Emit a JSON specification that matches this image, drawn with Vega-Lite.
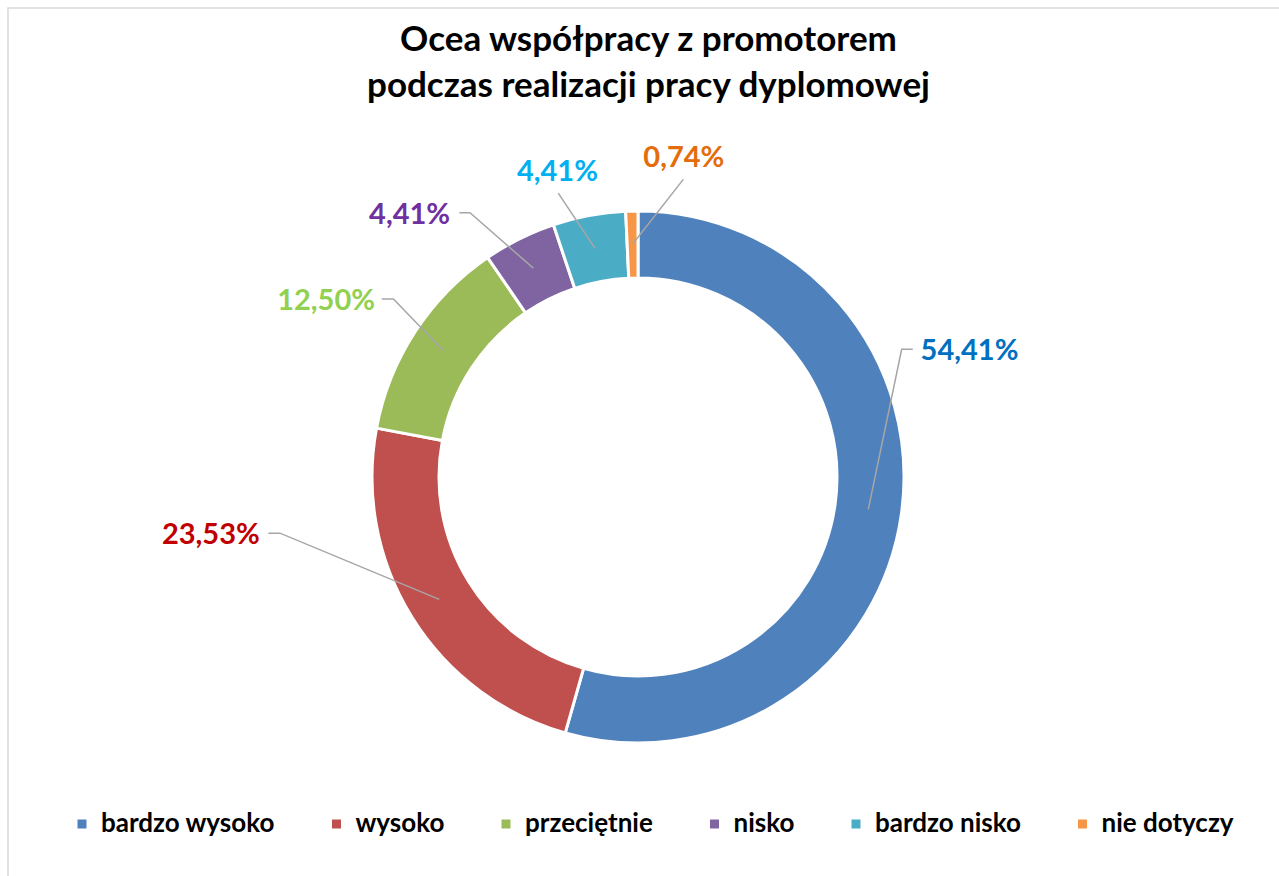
{
  "$schema": "https://vega.github.io/schema/vega-lite/v6.json",
  "width": 1281,
  "height": 878,
  "autosize": "none",
  "padding": {"left": 8, "top": 8, "right": -10, "bottom": -10},
  "background": "white",
  "config": {
    "view": {"stroke": "#D9D9D9", "strokeWidth": 1.5},
    "font": "Lato",
    "locale": {"number": {"decimal": ",", "thousands": " ", "grouping": [3], "currency": ["", " zł"]}}
  },
  "title": {
    "text": ["Ocea współpracy z promotorem", "podczas realizacji pracy dyplomowej"],
    "font": "Lato",
    "fontSize": 35,
    "fontWeight": "bold",
    "color": "#000000",
    "lineHeight": 46,
    "anchor": "middle",
    "frame": "group",
    "offset": -96
  },
  "datasets": {
    "dane": [
      {"kategoria": "bardzo wysoko", "udzial": 0.5441, "nr": 1},
      {"kategoria": "wysoko", "udzial": 0.2353, "nr": 2},
      {"kategoria": "przeciętnie", "udzial": 0.125, "nr": 3},
      {"kategoria": "nisko", "udzial": 0.0441, "nr": 4},
      {"kategoria": "bardzo nisko", "udzial": 0.0441, "nr": 5},
      {"kategoria": "nie dotyczy", "udzial": 0.0074, "nr": 6}
    ],
    "etykiety": [
      {"kategoria": "bardzo wysoko", "x": 1.251, "y": 0.475},
      {"kategoria": "wysoko", "x": -1.612, "y": -0.219},
      {"kategoria": "przeciętnie", "x": -1.177, "y": 0.664},
      {"kategoria": "nisko", "x": -0.862, "y": 0.989},
      {"kategoria": "bardzo nisko", "x": -0.304, "y": 1.152},
      {"kategoria": "nie dotyczy", "x": 0.173, "y": 1.203}
    ],
    "linie": [
      {"kategoria": "bardzo wysoko", "krok": 1, "x": 0.869, "y": -0.122},
      {"kategoria": "bardzo wysoko", "krok": 2, "x": 0.995, "y": 0.482},
      {"kategoria": "bardzo wysoko", "krok": 3, "x": 1.037, "y": 0.482},
      {"kategoria": "wysoko", "krok": 1, "x": -0.750, "y": -0.462},
      {"kategoria": "wysoko", "krok": 2, "x": -1.351, "y": -0.212},
      {"kategoria": "wysoko", "krok": 3, "x": -1.395, "y": -0.212},
      {"kategoria": "przeciętnie", "krok": 1, "x": -0.735, "y": 0.477},
      {"kategoria": "przeciętnie", "krok": 2, "x": -0.923, "y": 0.672},
      {"kategoria": "przeciętnie", "krok": 3, "x": -0.967, "y": 0.672},
      {"kategoria": "nisko", "krok": 1, "x": -0.395, "y": 0.788},
      {"kategoria": "nisko", "krok": 2, "x": -0.634, "y": 0.997},
      {"kategoria": "nisko", "krok": 3, "x": -0.674, "y": 0.997},
      {"kategoria": "bardzo nisko", "krok": 1, "x": -0.162, "y": 0.863},
      {"kategoria": "bardzo nisko", "krok": 2, "x": -0.301, "y": 1.071},
      {"kategoria": "nie dotyczy", "krok": 1, "x": -0.020, "y": 0.879},
      {"kategoria": "nie dotyczy", "krok": 2, "x": 0.171, "y": 1.123}
    ]
  },
  "layer": [
    {
      "data": {"name": "dane"},
      "mark": {"type": "arc", "innerRadius": 199, "outerRadius": 266, "stroke": "white", "strokeWidth": 3},
      "encoding": {
        "theta": {"field": "udzial", "type": "quantitative", "stack": true},
        "order": {"field": "nr", "type": "quantitative"},
        "color": {
          "field": "kategoria",
          "type": "nominal",
          "scale": {
            "domain": ["bardzo wysoko", "wysoko", "przeciętnie", "nisko", "bardzo nisko", "nie dotyczy"],
            "range": ["#4F81BD", "#C0504D", "#9BBB59", "#8064A2", "#4BACC6", "#F79646"]
          },
          "legend": {
            "title": null,
            "orient": "none",
            "legendX": 61,
            "legendY": 803,
            "direction": "horizontal",
            "columns": 6,
            "gridAlign": "none",
            "columnPadding": 48.5,
            "symbolType": "square",
            "symbolSize": 81,
            "symbolStrokeWidth": 0,
            "symbolOpacity": 1,
            "labelFont": "Lato",
            "labelFontSize": 26,
            "labelFontWeight": "bold",
            "labelColor": "#000000",
            "labelOffset": 6,
            "labelLimit": 400,
            "padding": 0
          }
        },
        "x": {"datum": 0, "type": "quantitative", "scale": {"domain": [-2.37736, 2.4566], "nice": false, "zero": false}, "axis": null},
        "y": {"datum": 0, "type": "quantitative", "scale": {"domain": [-1.5434, 1.76981], "nice": false, "zero": false}, "axis": null}
      }
    },
    {
      "data": {"name": "linie"},
      "mark": {"type": "line", "color": "#A6A6A6", "strokeWidth": 1.5},
      "encoding": {
        "x": {"field": "x", "type": "quantitative", "axis": null},
        "y": {"field": "y", "type": "quantitative", "axis": null},
        "detail": {"field": "kategoria", "type": "nominal"},
        "order": {"field": "krok", "type": "quantitative"}
      }
    },
    {
      "data": {"name": "etykiety"},
      "transform": [
        {"lookup": "kategoria", "from": {"data": {"name": "dane"}, "key": "kategoria", "fields": ["udzial"]}}
      ],
      "mark": {"type": "text", "font": "Lato", "fontSize": 29, "fontWeight": "bold", "baseline": "middle", "align": "center"},
      "encoding": {
        "x": {"field": "x", "type": "quantitative", "axis": null},
        "y": {"field": "y", "type": "quantitative", "axis": null},
        "text": {"field": "udzial", "type": "quantitative", "format": ".2%"},
        "color": {
          "field": "kategoria",
          "type": "nominal",
          "scale": {
            "domain": ["bardzo wysoko", "wysoko", "przeciętnie", "nisko", "bardzo nisko", "nie dotyczy"],
            "range": ["#0070C0", "#C00000", "#92D050", "#7030A0", "#00B0F0", "#E46C0A"]
          },
          "legend": null
        }
      }
    }
  ],
  "resolve": {"scale": {"color": "independent"}}
}
